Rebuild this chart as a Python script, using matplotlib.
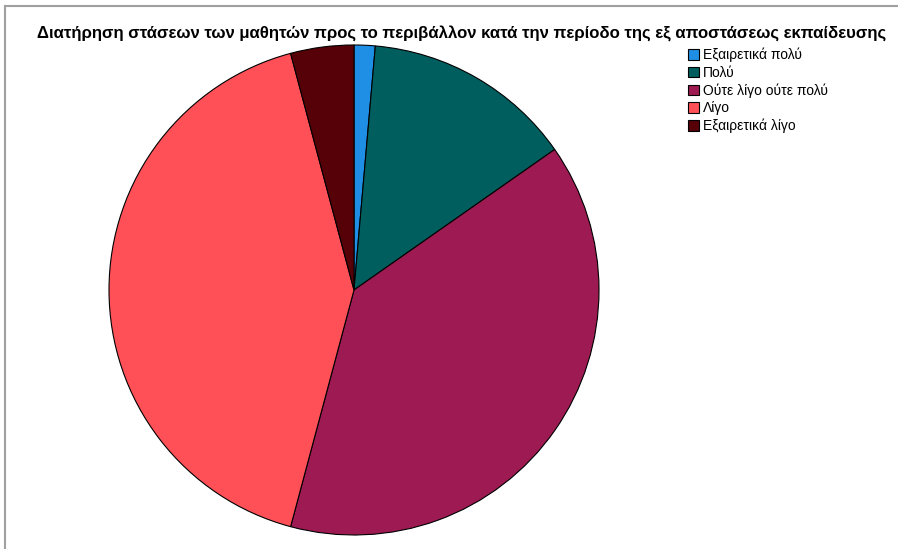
import matplotlib.pyplot as plt
from matplotlib.lines import Line2D
from matplotlib.patches import Patch

plt.rcParams['font.family'] = ['Liberation Sans', 'DejaVu Sans']

# Δεδομένα
labels = ['Εξαιρετικά πολύ', 'Πολύ', 'Ούτε λίγο ούτε πολύ', 'Λίγο', 'Εξαιρετικά λίγο']
counts = [1, 10, 28, 30, 3]
colors = ['#1F8FE5', '#005E5E', '#9E1A52', '#FF5058', '#560008']
title = 'Διατήρηση στάσεων των μαθητών προς το περιβάλλον κατά την περίοδο της εξ αποστάσεως εκπαίδευσης'

W, H = 898, 549
fig = plt.figure(figsize=(W / 100, H / 100), dpi=100)

# πίτα: κέντρο (354, 290), ακτίνα 245 px
cx, cy, r = 354, 290, 245
ax = fig.add_axes([(cx - r) / W, (H - cy - r) / H, 2 * r / W, 2 * r / H])
ax.pie(counts, colors=colors, startangle=90, counterclock=False,
       wedgeprops=dict(edgecolor='black', linewidth=0.8))
ax.set_xlim(-1, 1)
ax.set_ylim(-1, 1)
ax.axis('off')

# τίτλος
fig.text(462 / W, 1 - 34 / H, title, ha='center', va='center',
         fontsize=12.1, fontweight='bold')

# υπόμνημα
handles = [Patch(facecolor=c, edgecolor='black', linewidth=0.8) for c in colors]
fig.legend(handles, labels, loc='upper left', bbox_to_anchor=(688 / W, 1 - 48 / H),
           frameon=False, fontsize=10, handlelength=0.8, handleheight=0.8,
           handletextpad=0.3, labelspacing=0.25, borderpad=0, borderaxespad=0)

# πλαίσιο (γκρι γραμμές πάνω και αριστερά)
fig.add_artist(Line2D([5 / W, 1], [1 - 6 / H, 1 - 6 / H], color='#A0A0A0', linewidth=1.5))
fig.add_artist(Line2D([5 / W, 5 / W], [1 - 6 / H, 0], color='#A0A0A0', linewidth=1.5))

fig.savefig('out.png', dpi=100)
